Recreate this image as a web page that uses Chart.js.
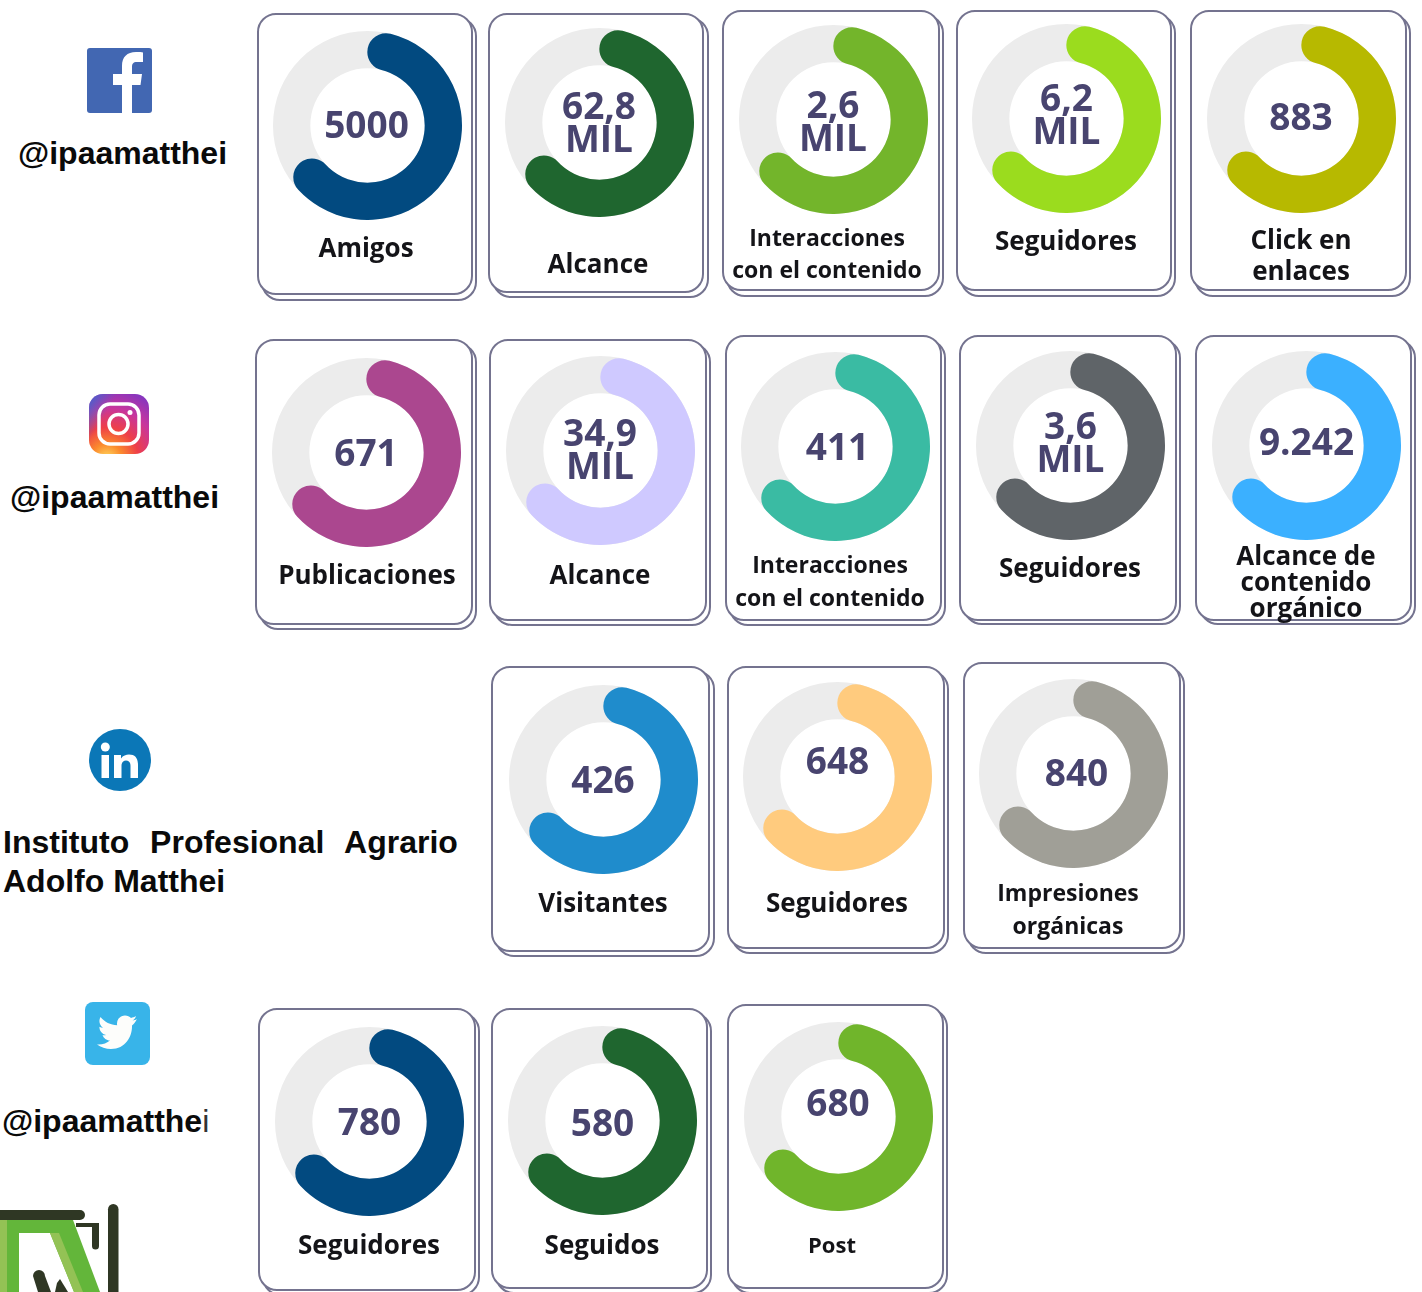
<!DOCTYPE html>
<html lang="es">
<head>
<meta charset="utf-8">
<title>Redes sociales</title>
<script src="https://cdn.jsdelivr.net/npm/chart.js@4"></script>
<style>
html,body{margin:0;padding:0;background:#fff;}
#page{position:relative;width:1422px;height:1292px;overflow:hidden;background:#fff;}
.back,.front{position:absolute;box-sizing:border-box;border:2px solid #74738f;border-radius:19px;background:#fff;}
canvas{position:absolute;}
.txt{position:absolute;transform:translate(-50%,-50%);white-space:nowrap;font-family:"Open Sans",sans-serif;}
.num{font-weight:700;font-size:37px;color:#48446f;line-height:33px;text-align:center;}
.lab{font-weight:700;color:#141418;line-height:1;}
.h{position:absolute;white-space:nowrap;font-family:"Liberation Sans",Arial,sans-serif;font-weight:700;font-size:32px;color:#0a0a0a;line-height:1;}
svg{position:absolute;}
</style>
</head>
<body>
<div id="page">
<!-- Facebook -->
<svg style="left:87px;top:48px" width="65" height="65" viewBox="0 0 65 65"><rect width="65" height="65" rx="3" fill="#4267b2"/><path d="M35 65V37H26V26H35V18C35 9 40 4 49 4C52 4 55 4 56 4.500V14H50C46 14 45 16 45 19V26H55L53.500 37H45V65Z" fill="#fff"/></svg>
<div class="h" style="left:18px;top:137px">@ipaamatthei</div>
<!-- Instagram -->
<svg style="left:89px;top:394px" width="60" height="60" viewBox="0 0 60 60">
<defs>
<radialGradient id="ig" cx="30%" cy="108%" r="125%"><stop offset="0" stop-color="#ffdc60"/><stop offset=".2" stop-color="#fb8a2d"/><stop offset=".42" stop-color="#ee3f48"/><stop offset=".68" stop-color="#c8359d"/><stop offset="1" stop-color="#7a35c4"/></radialGradient>
<linearGradient id="ig2" x1="0" y1="0" x2="1" y2="0.600"><stop offset="0" stop-color="#3f66d0"/><stop offset=".35" stop-color="#3f66d0" stop-opacity="0"/></linearGradient>
</defs>
<rect width="60" height="60" rx="14" fill="url(#ig)"/><rect width="60" height="60" rx="14" fill="url(#ig2)"/>
<rect x="10" y="10" width="40" height="40" rx="11" fill="none" stroke="#fff" stroke-width="3.500"/>
<circle cx="29.500" cy="30" r="9.500" fill="none" stroke="#fff" stroke-width="3.500"/><circle cx="41" cy="18.500" r="2.500" fill="#fff"/></svg>
<div class="h" style="left:10px;top:481px">@ipaamatthei</div>
<!-- LinkedIn -->
<svg style="left:89px;top:729px" width="62" height="62" viewBox="0 0 62 62"><circle cx="31" cy="31" r="31" fill="#0b77b7"/><rect x="12.500" y="26" width="7.500" height="23" fill="#fff"/><circle cx="16.300" cy="18" r="4.500" fill="#fff"/><path d="M25 26H32V29.500C34 26.500 37 25.500 40 25.500C46 25.500 49 29 49 36V49H41.500V37C41.500 33.500 40 31.500 37 31.500C34 31.500 32.500 34 32.500 37V49H25Z" fill="#fff"/></svg>
<div class="h" style="left:3px;top:826px;word-spacing:12px">Instituto Profesional Agrario</div>
<div class="h" style="left:3px;top:865px">Adolfo Matthei</div>
<!-- Twitter -->
<svg style="left:85px;top:1002px" width="65" height="63" viewBox="0 0 65 63"><rect width="65" height="63" rx="8" fill="#38b4e9"/><path d="M52 17C50.500 18 49 18.300 47.500 18.500C49 17.500 50.500 16 51 14C49.500 15 47.500 15.500 46 16C44.500 14.500 42.500 13.500 40 13.500C35.500 13.500 32 17 32 21.500C32 22 32 22.800 32.200 23.300C25.500 23 19.500 20 15.500 15C14.800 16.200 14.400 17.500 14.400 19C14.400 21.800 15.800 24.300 18 25.700C16.700 25.700 15.500 25.300 14.400 24.700C14.400 28.800 17 32 21 33C19.800 33.300 18.700 33.300 17.500 33C18.500 36 21.500 38.500 25 38.500C22 41 17 43 12 42.500C15.500 45 21 47 26 47C40.500 47 47 34.500 47 24.500V23.500C49 22 50.500 20 52 17Z" fill="#fdfdfb"/></svg>
<div class="h" style="left:2px;top:1105px">@ipaamatthe<span style="font-weight:400;color:#333">i</span></div>
<!-- Logo -->
<svg style="left:0;top:1200px" width="125" height="92" viewBox="0 0 125 92">
<path d="M0 20H73L100 92H19V33H0Z" fill="#63b63a"/>
<rect x="0" y="20" width="19" height="72" fill="#63b63a"/>
<rect x="0" y="20" width="7" height="72" fill="#93c255"/>
<path d="M19 33H50L74 92H19Z" fill="#fff"/>
<path d="M50 33H59L83 92H74Z" fill="#93c255"/>
<path d="M4 10H80A5 5 0 0 1 80 20H0V10Z" fill="#2f3724"/>
<path d="M76 23H99V46A3.500 3.500 0 0 1 92 46V27H76Z" fill="#2f3724"/>
<rect x="108" y="4" width="10.500" height="96" rx="5.200" fill="#2f3724"/>
<path d="M33 76A6 6 0 0 1 45 76L51 92H38Z" fill="#2f3724"/>
<path d="M60 79L68 92H55L57 83Z" fill="#2f3724"/>
</svg>
</div>
<script>
const rowHandles = ["@ipaamatthei", "@ipaamatthei", "Instituto Profesional Agrario Adolfo Matthei", "@ipaamatthei"];
const centerTexts = ["5000","62,8\nMIL","2,6\nMIL","6,2\nMIL","883","671","34,9\nMIL","411","3,6\nMIL","9.242","426","648","840","780","580","680"];
const categoryLabels = ["Amigos","Alcance","Interacciones\ncon el contenido","Seguidores","Click en\nenlaces","Publicaciones","Alcance","Interacciones\ncon el contenido","Seguidores","Alcance de\ncontenido\norgánico","Visitantes","Seguidores","Impresiones\norgánicas","Seguidores","Seguidos","Post"];
const fillPercent = [67,67,67,67,67,67,67,67,67,67,67,67,67,67,67,67];
const ringColors = ["#024a80","#1f662f","#73b52b","#9bdc1e","#b7b900","#ab478f","#cfc9ff","#3abba3","#5f6468","#3bb0ff","#1f8ccc","#ffcb7e","#a09f97","#024a80","#1f662f","#70b52b"];
const trackColor = "#ececec";

// Layout only: left, top, right, bottom, backRight, backBottom of each card
const cardBoxes = [[257,13,473,295,477,301],[488,13,704,293,709,298],[722,10,940,291,944,297],[956,10,1172,291,1176,297],[1190,10,1407,291,1411,297],
[255,339,473,625,477,630],[489,339,707,621,711,626],[725,335,942,621,946,626],[959,335,1177,621,1181,625],[1195,335,1412,621,1416,625],
[491,666,710,952,715,957],[727,666,945,949,949,954],[963,662,1181,949,1185,954],
[258,1008,476,1291,480,1296],[491,1008,708,1289,712,1294],[727,1004,944,1289,948,1294]];
const ringCenters = [[367,125],[599.500,122],[833,119.500],[1066.500,118.500],[1301,118.500],
[366.500,452.500],[600,450],[835.500,446],[1070.500,445],[1306.500,445.500],
[603,779.500],[837.500,776],[1073.500,773],[369.500,1121.500],[602.500,1120],[838,1116]];
const centerTextX = [366.500,599,833,1066.500,1301,366,600,837.500,1070.500,1306.500,603,837.500,1076.500,369.500,602.500,838];
const centerTextY = [123,120.500,120,113,114.500,450.500,447.500,444.500,441,439.500,777.500,758.500,770.500,1119.500,1120.500,1100.500];
const labelAnchors = [[366,246.500],[598,262.500],[827,237],[1066,239.500],[1301,238.500],[367,573.500],[600,573.500],[830,564],[1070,566.500],[1306,554.500],[603,901.500],[837,901.500],[1068,892],[369,1243.500],[602,1243.500],[832,1244]];
const labelSizes = [26,26,23,26,26,26,26,23,26,26,26,26,23,26,26,22];
const labelLineGaps = [0,0,32,0,31,0,0,33,0,26,0,0,33,0,0,0];
const RING_SIZE = 189;

const page = document.getElementById("page");
function addText(cls, text, x, y, size) {
  const d = document.createElement("div");
  d.className = "txt " + cls;
  d.textContent = text;
  d.style.left = x + "px";
  d.style.top = y + "px";
  if (size) d.style.fontSize = size + "px";
  page.appendChild(d);
  return d;
}
function addCanvas(cx, cy) {
  const c = document.createElement("canvas");
  c.width = RING_SIZE; c.height = RING_SIZE;
  c.style.left = Math.round(cx - RING_SIZE / 2) + "px";
  c.style.top = Math.round(cy - RING_SIZE / 2) + "px";
  c.style.width = RING_SIZE + "px"; c.style.height = RING_SIZE + "px";
  page.appendChild(c);
  return c;
}
const ringOptions = {
  responsive: false, animation: false, cutout: "60.500%", rotation: 0,
  events: [],
  plugins: { legend: { display: false }, tooltip: { enabled: false } },
  layout: { padding: 0 }
};
categoryLabels.forEach((label, i) => {
  const [l, t, r, b, br, bb] = cardBoxes[i];
  const back = document.createElement("div");
  back.className = "back";
  Object.assign(back.style, { left: (l + 4) + "px", top: (t + 4) + "px", width: (br - l - 4) + "px", height: (bb - t - 4) + "px" });
  page.appendChild(back);
  const front = document.createElement("div");
  front.className = "front";
  Object.assign(front.style, { left: l + "px", top: t + "px", width: (r - l) + "px", height: (b - t) + "px" });
  page.appendChild(front);

  const [cx, cy] = ringCenters[i];
  new Chart(addCanvas(cx, cy), {
    type: "doughnut",
    data: { labels: ["Base"], datasets: [{ data: [100], backgroundColor: [trackColor], borderWidth: 0, hoverBorderWidth: 0 }] },
    options: ringOptions
  });
  new Chart(addCanvas(cx, cy), {
    type: "doughnut",
    data: { labels: [label.replace(/\n/g, " "), ""], datasets: [{
      data: [fillPercent[i], 100 - fillPercent[i]],
      backgroundColor: [ringColors[i], "rgba(0,0,0,0)"],
      borderWidth: 0, hoverBorderWidth: 0, borderRadius: [19, 0]
    }] },
    options: ringOptions
  });

  const n = addText("num", "", centerTextX[i], centerTextY[i]);
  n.style.whiteSpace = "pre-line";
  n.textContent = centerTexts[i];

  const lines = label.split("\n");
  const [lx, ly] = labelAnchors[i];
  lines.forEach((ln, k) => addText("lab", ln, lx, ly + k * labelLineGaps[i], labelSizes[i]));
});
</script>
</body>
</html>
